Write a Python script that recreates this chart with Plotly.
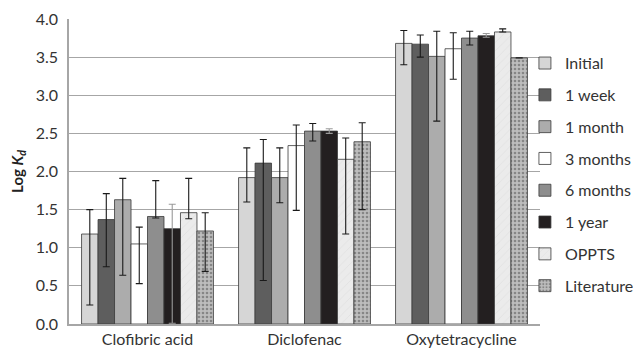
import plotly.graph_objects as go

categories = ["Clofibric acid", "Diclofenac", "Oxytetracycline"]
series_names = ["Initial", "1 week", "1 month", "3 months", "6 months", "1 year", "OPPTS", "Literature"]

values = {
    "Initial":    [1.18, 1.92, 3.68],
    "1 week":     [1.37, 2.11, 3.67],
    "1 month":    [1.63, 1.92, 3.51],
    "3 months":   [1.05, 2.34, 3.61],
    "6 months":   [1.41, 2.53, 3.75],
    "1 year":     [1.25, 2.53, 3.78],
    "OPPTS":      [1.46, 2.16, 3.83],
    "Literature": [1.22, 2.39, 3.49],
}
err_high = {
    "Initial":    [1.50, 2.31, 3.85],
    "1 week":     [1.71, 2.42, 3.79],
    "1 month":    [1.91, 2.31, 3.84],
    "3 months":   [1.27, 2.61, 3.82],
    "6 months":   [1.88, 2.63, 3.84],
    "1 year":     [1.57, 2.56, 3.81],
    "OPPTS":      [1.91, 2.44, 3.87],
    "Literature": [1.46, 2.64, 3.49],
}
err_low = {
    "Initial":    [0.25, 1.60, 3.40],
    "1 week":     [0.75, 0.57, 3.50],
    "1 month":    [0.64, 1.59, 2.66],
    "3 months":   [0.53, 1.49, 3.21],
    "6 months":   [1.39, 2.40, 3.66],
    "1 year":     [0.01, 2.50, 3.76],
    "OPPTS":      [1.38, 1.18, 3.83],
    "Literature": [0.69, 1.50, 3.49],
}

colors = {
    "Initial": "#d6d6d6", "1 week": "#5e5e5e", "1 month": "#acacac", "3 months": "#ffffff",
    "6 months": "#8e8e8e", "1 year": "#231f20", "OPPTS": "#ebebeb", "Literature": "#bdbdbd",
}
patterns = {
    "OPPTS": dict(shape="/", fgcolor="#cfcfcf", size=6, solidity=0.1),
    "Literature": dict(shape=".", fgcolor="#505050", size=4, solidity=0.35),
}
err_colors = {"1 year": "#9a9a9a"}

font = "Lato, 'Open Sans', sans-serif"
fig = go.Figure()
for i, name in enumerate(series_names):
    v = values[name]
    plus = [max(h - y, 0) for h, y in zip(err_high[name], v)]
    minus = [max(y - l, 0) for l, y in zip(err_low[name], v)]
    marker = dict(color=colors[name], line=dict(color="#3a3a3a", width=0.8))
    if name in patterns:
        marker["pattern"] = patterns[name]
    fig.add_trace(go.Bar(
        name=name, x=categories, y=v, marker=marker, legendgroup=name,
        error_y=dict(type="data", symmetric=False, array=plus, arrayminus=minus,
                     color=err_colors.get(name, "#1a1a1a"), thickness=1.1, width=3.5),
    ))

# The page body has an 8px default margin, so the figure is sized to fit the window.
fig.update_layout(
    width=633, height=347,
    margin=dict(l=61, r=101, t=11, b=31, autoexpand=False),
    paper_bgcolor="white", plot_bgcolor="white",
    barmode="group", bargap=0.16, bargroupgap=0,
    font=dict(family=font, size=16, color="#333333"),
    showlegend=True,
    legend=dict(x=0.968, y=0.911, xanchor="left", yanchor="top",
                font=dict(size=16, color="#333333"), tracegroupgap=8,
                itemwidth=30, bgcolor="rgba(0,0,0,0)"),
    xaxis=dict(showline=True, linecolor="#a6a6a6", linewidth=1.5, ticks="",
               tickfont=dict(size=16, color="#333333"), showgrid=False, automargin=False),
    yaxis=dict(range=[0, 4.0], dtick=0.5, tickformat=".1f", showgrid=True,
               gridcolor="#a6a6a6", gridwidth=1, showline=True, linecolor="#a6a6a6",
               linewidth=1.5, ticks="", tickfont=dict(size=16, color="#333333"),
               zeroline=False, automargin=False, ticklabelstandoff=6,
               title=dict(text="<b>Log <i>K<sub>d</sub></i></b>", font=dict(size=15, color="#222222"),
                          standoff=14)),
)
fig.write_html("out.html")
